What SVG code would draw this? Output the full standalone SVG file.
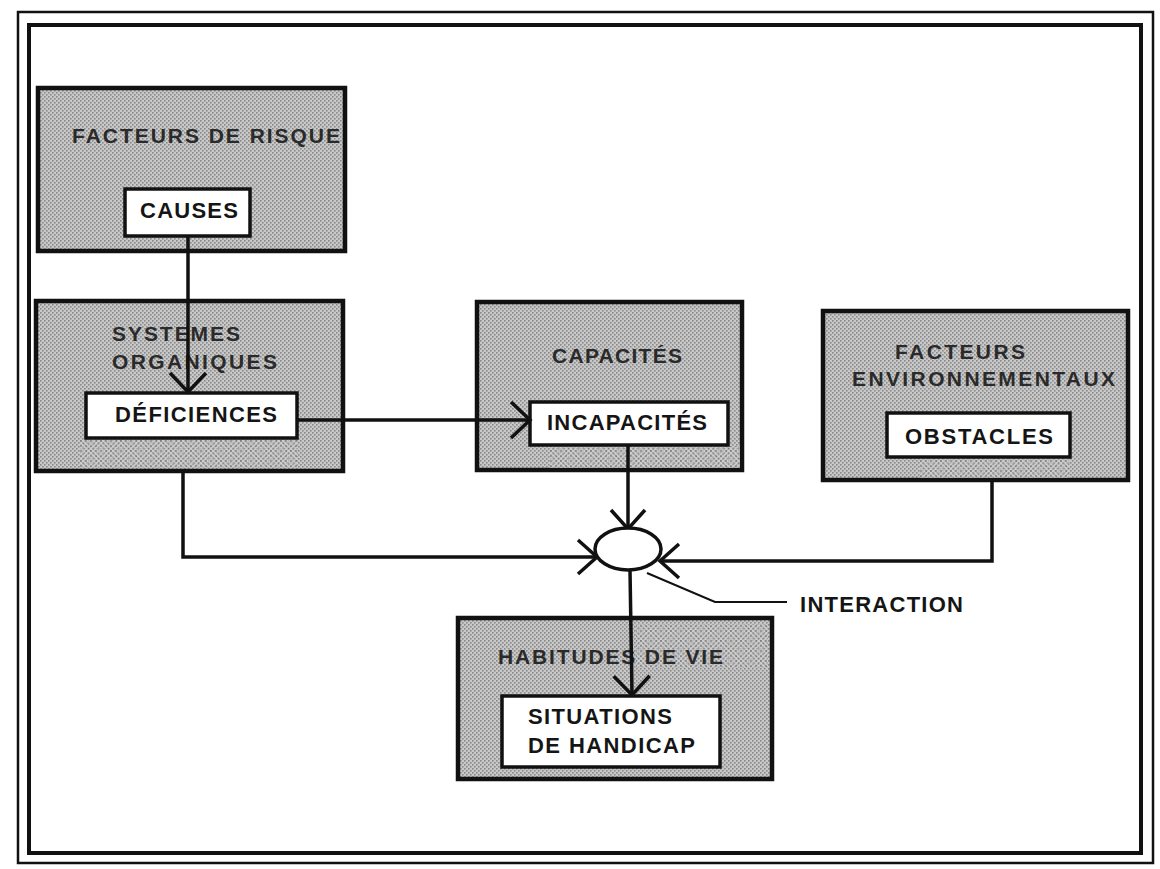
<svg xmlns="http://www.w3.org/2000/svg" width="1160" height="869" viewBox="0 0 1160 869">
<defs>
<pattern id="stip" width="4" height="4" patternUnits="userSpaceOnUse">
<rect width="4" height="4" fill="#c8c8c8"/>
<rect x="0" y="0" width="1.6" height="1.6" fill="#8a8a8a"/>
<rect x="2" y="2" width="1.6" height="1.6" fill="#8a8a8a"/>
</pattern>
<pattern id="stip2" width="5" height="5" patternUnits="userSpaceOnUse">
<rect width="5" height="5" fill="#d0d0d0"/>
<rect x="0" y="0" width="2" height="2" fill="#7a7a7a"/>
<rect x="2.5" y="2.5" width="2" height="2" fill="#7a7a7a"/>
</pattern>
<marker id="v" markerUnits="userSpaceOnUse" markerWidth="44" markerHeight="44" refX="22" refY="22" orient="auto" overflow="visible">
<path d="M3,4 L22,22 L3,40" fill="none" stroke="#111" stroke-width="3.5"/>
</marker>
<marker id="vs" markerUnits="userSpaceOnUse" markerWidth="44" markerHeight="44" refX="22" refY="22" orient="auto" overflow="visible">
<path d="M5,5 L24,22 L5,39" fill="none" stroke="#111" stroke-width="3.5"/>
</marker>
</defs>
<style>
.outer{fill:url(#stip);stroke:#111;stroke-width:4.5}
.inner{fill:#fff;stroke:#111;stroke-width:3.5}
.h{font-family:"Liberation Sans",Arial,sans-serif;font-weight:bold;font-size:21px;fill:#2a2a2a}
.t{font-family:"Liberation Sans",Arial,sans-serif;font-weight:bold;font-size:22px;fill:#151515}
.c{fill:none;stroke:#111;stroke-width:3.5}
</style>
<rect x="0" y="0" width="1160" height="869" fill="#fff"/>
<g id="frame" fill="none" stroke="#111">
<rect x="18" y="12" width="1135" height="851" stroke-width="2.5"/>
<rect x="29" y="25" width="1112" height="828" stroke-width="4"/>
</g>
<g id="risque">
<rect class="outer" x="38" y="88" width="307" height="163"/>
<text class="h" x="72" y="143" textLength="268">FACTEURS DE RISQUE</text>
<rect class="inner" x="125" y="189" width="125" height="47"/>
<text class="t" x="140" y="218" textLength="98">CAUSES</text>
</g>
<g id="systemes">
<rect class="outer" x="36" y="301" width="307" height="170"/>
<rect x="80" y="440" width="217" height="28" fill="url(#stip2)" opacity="0.6"/>
<text class="h" x="112" y="341" textLength="128">SYSTEMES</text>
<text class="h" x="112" y="369" textLength="165">ORGANIQUES</text>
<rect class="inner" x="86" y="393" width="211" height="45"/>
<text class="t" x="115" y="422" textLength="162">DÉFICIENCES</text>
</g>
<g id="capacites">
<rect class="outer" x="477" y="302" width="265" height="168"/>
<rect x="550" y="446" width="190" height="22" fill="url(#stip2)" opacity="0.6"/>
<text class="h" x="552" y="363" textLength="130">CAPACITÉS</text>
<rect class="inner" x="530" y="402" width="198" height="43"/>
<text class="t" x="547" y="430" textLength="160">INCAPACITÉS</text>
</g>
<g id="environnement">
<rect class="outer" x="823" y="311" width="305" height="169"/>
<rect x="920" y="458" width="150" height="20" fill="url(#stip2)" opacity="0.6"/>
<text class="h" x="895" y="359" textLength="130">FACTEURS</text>
<text class="h" x="852" y="386" textLength="263">ENVIRONNEMENTAUX</text>
<rect class="inner" x="887" y="413" width="183" height="44"/>
<text class="t" x="905" y="444" textLength="148">OBSTACLES</text>
</g>
<g id="habitudes">
<rect class="outer" x="458" y="618" width="314" height="161"/>
<rect x="636" y="624" width="132" height="44" fill="url(#stip2)" opacity="0.6"/>
<text class="h" x="498" y="664" textLength="225">HABITUDES DE VIE</text>
<rect class="inner" x="502" y="696" width="218" height="71"/>
<text class="t" x="528" y="724" textLength="144">SITUATIONS</text>
<text class="t" x="528" y="753" textLength="167">DE HANDICAP</text>
</g>
<g id="connectors">
<path class="c" d="M188,237 L188,392" marker-end="url(#v)"/>
<path class="c" d="M297,420 L530,420" marker-end="url(#v)"/>
<path class="c" d="M628,445 L628,527" marker-end="url(#vs)"/>
<path class="c" d="M183,472 L183,557 L595,557" marker-end="url(#vs)"/>
<path class="c" d="M992,480 L992,561 L662,561" marker-end="url(#vs)"/>
<path class="c" d="M630,570 L632,695" marker-end="url(#v)"/>
<path d="M647,573 L715,602 L787,602" fill="none" stroke="#111" stroke-width="2"/>
</g>
<g id="interaction">
<ellipse cx="628" cy="549" rx="33" ry="21" fill="#fff" stroke="#111" stroke-width="3.5"/>
<text class="t" x="800" y="612" textLength="163">INTERACTION</text>
</g>
</svg>
